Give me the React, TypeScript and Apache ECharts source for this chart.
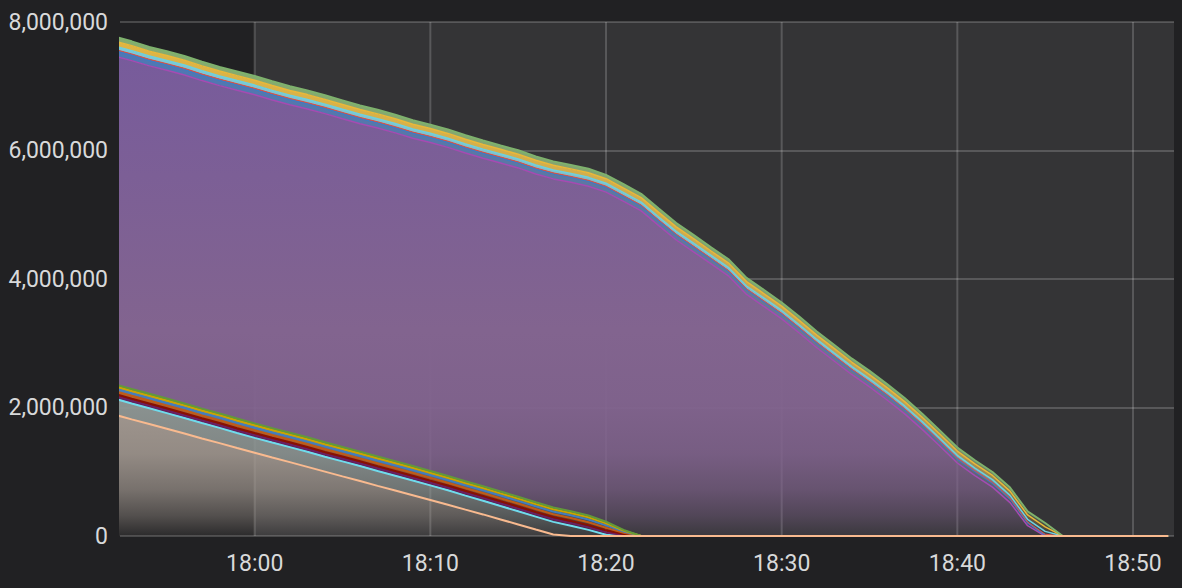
import React, { useEffect, useRef } from 'react';
import * as echarts from 'echarts';

const START = new Date(2024, 0, 15, 17, 52, 0).getTime();
const MINUTE = 60000;
const AXIS_MIN = START + 20000;
const AXIS_MAX = START + 60 * MINUTE + 20000;
const BG_FROM = new Date(2024, 0, 15, 18, 0, 0).getTime();
const Y_MAX = 8000000;
const Y_STEP = 2000000;

// values in thousands, one point per minute from 17:52 to 18:52 (stack order: bottom → top)
const peach = [1890, 1815, 1742, 1668, 1594, 1518, 1446, 1370, 1296, 1222, 1150, 1076, 1002, 928, 855, 780, 708, 634, 560, 486, 410, 336, 258, 180, 100, 22, 0, 0, 0, 0, 0, 0, 0, 0, 0, 0, 0, 0, 0, 0, 0, 0, 0, 0, 0, 0, 0, 0, 0, 0, 0, 0, 0, 0, 0, 0, 0, 0, 0, 0, 0];
const cyanLow = [250, 248, 246, 244, 242, 240, 237, 234, 231, 232, 233, 234, 232, 233, 234, 232, 231, 229, 228, 225, 219, 213, 208, 204, 202, 198, 160, 95, 20, 0, 0, 0, 0, 0, 0, 0, 0, 0, 0, 0, 0, 0, 0, 0, 0, 0, 0, 0, 0, 0, 0, 0, 0, 0, 0, 0, 0, 0, 0, 0, 0];
const plumLow = [40, 40, 41, 40, 39, 40, 41, 40, 40, 39, 40, 41, 40, 40, 39, 40, 40, 41, 40, 39, 40, 40, 41, 40, 39, 40, 40, 39, 36, 17, 0, 0, 0, 0, 0, 0, 0, 0, 0, 0, 0, 0, 0, 0, 0, 0, 0, 0, 0, 0, 0, 0, 0, 0, 0, 0, 0, 0, 0, 0, 0];
const maroonLow = [35, 35, 34, 35, 36, 35, 35, 34, 35, 35, 36, 35, 34, 35, 35, 36, 35, 35, 34, 35, 35, 36, 35, 35, 34, 35, 35, 35, 32, 15, 0, 0, 0, 0, 0, 0, 0, 0, 0, 0, 0, 0, 0, 0, 0, 0, 0, 0, 0, 0, 0, 0, 0, 0, 0, 0, 0, 0, 0, 0, 0];
const brownLow = [45, 44, 45, 46, 45, 44, 45, 45, 46, 45, 44, 45, 45, 46, 45, 44, 45, 45, 46, 45, 44, 45, 45, 46, 45, 44, 45, 45, 40, 19, 0, 0, 0, 0, 0, 0, 0, 0, 0, 0, 0, 0, 0, 0, 0, 0, 0, 0, 0, 0, 0, 0, 0, 0, 0, 0, 0, 0, 0, 0, 0];
const blueLow = [42, 42, 41, 42, 43, 42, 42, 41, 42, 42, 43, 42, 42, 41, 42, 42, 43, 42, 42, 41, 42, 42, 43, 42, 42, 41, 42, 42, 38, 18, 0, 0, 0, 0, 0, 0, 0, 0, 0, 0, 0, 0, 0, 0, 0, 0, 0, 0, 0, 0, 0, 0, 0, 0, 0, 0, 0, 0, 0, 0, 0];
const yellowLow = [35, 35, 36, 35, 34, 35, 35, 36, 35, 35, 34, 35, 35, 36, 35, 35, 34, 35, 35, 36, 35, 35, 34, 35, 35, 36, 35, 35, 31, 15, 0, 0, 0, 0, 0, 0, 0, 0, 0, 0, 0, 0, 0, 0, 0, 0, 0, 0, 0, 0, 0, 0, 0, 0, 0, 0, 0, 0, 0, 0, 0];
const greenLow = [28, 28, 28, 29, 28, 28, 27, 28, 28, 29, 28, 28, 28, 27, 28, 28, 29, 28, 28, 28, 27, 28, 28, 29, 28, 28, 28, 27, 25, 11, 0, 0, 0, 0, 0, 0, 0, 0, 0, 0, 0, 0, 0, 0, 0, 0, 0, 0, 0, 0, 0, 0, 0, 0, 0, 0, 0, 0, 0, 0, 0];
const purple = [5108, 5112, 5104, 5110, 5115, 5106, 5102, 5110, 5114, 5108, 5103, 5110, 5116, 5108, 5104, 5112, 5109, 5102, 5110, 5114, 5108, 5104, 5112, 5118, 5110, 5114, 5120, 5126, 5130, 5112, 5060, 4830, 4607, 4420, 4230, 4040, 3760, 3570, 3380, 3160, 2930, 2720, 2510, 2320, 2117, 1900, 1660, 1400, 1136, 940, 760, 520, 160, 0, 0, 0, 0, 0, 0, 0, 0];
const blueHigh = [86, 86, 85, 85, 85, 84, 84, 84, 83, 83, 83, 82, 82, 82, 81, 81, 81, 80, 80, 80, 79, 79, 79, 78, 78, 78, 77, 77, 77, 76, 76, 75, 75, 74, 74, 73, 73, 72, 72, 71, 71, 70, 70, 69, 68, 68, 67, 66, 65, 64, 62, 58, 45, 15, 0, 0, 0, 0, 0, 0, 0];
const redHigh = [18, 18, 18, 17, 18, 18, 17, 17, 18, 17, 17, 17, 17, 16, 17, 17, 16, 16, 17, 16, 16, 16, 16, 16, 15, 16, 15, 15, 16, 15, 15, 15, 15, 14, 15, 14, 14, 15, 14, 14, 14, 14, 14, 13, 14, 13, 13, 13, 13, 13, 13, 13, 12, 12, 0, 0, 0, 0, 0, 0, 0];
const cyanHigh = [51, 51, 50, 50, 51, 50, 50, 49, 50, 49, 49, 49, 48, 49, 48, 48, 48, 47, 48, 47, 47, 47, 47, 46, 47, 46, 46, 46, 45, 46, 45, 45, 45, 45, 44, 45, 44, 44, 44, 43, 44, 43, 43, 43, 42, 43, 42, 42, 42, 41, 42, 42, 43, 45, 0, 0, 0, 0, 0, 0, 0];
const yellowHigh = [78, 78, 77, 78, 77, 77, 76, 77, 76, 76, 75, 76, 75, 75, 74, 75, 74, 74, 73, 74, 73, 73, 72, 73, 72, 72, 71, 72, 71, 71, 70, 71, 70, 70, 69, 70, 69, 69, 68, 69, 68, 68, 67, 68, 67, 67, 66, 67, 66, 66, 65, 66, 67, 70, 0, 0, 0, 0, 0, 0, 0];
const greenHigh = [67, 67, 66, 67, 66, 66, 65, 66, 65, 65, 64, 65, 64, 64, 63, 64, 63, 63, 62, 63, 62, 62, 61, 62, 61, 61, 60, 61, 60, 60, 59, 60, 59, 59, 58, 59, 58, 58, 57, 58, 57, 57, 56, 57, 56, 56, 55, 56, 55, 55, 54, 55, 56, 60, 0, 0, 0, 0, 0, 0, 0];

// x-axis gridline / label times, every 10 minutes
const X_TICK_MINUTES = [0, 10, 20, 30, 40, 50];

const SERIES = [
  { name: 'peach', data: peach, line: '#F9BA8F', top: '#b4a99e', mid: '#a69c94', width: 2, z: 4 },
  { name: 'cyan-low', data: cyanLow, line: '#70DBED', top: '#93a0a0', mid: '#8f9795', width: 2, z: 2 },
  { name: 'plum-low', data: plumLow, line: '#6D1F62', top: '#5e2257', mid: '#5e2257', width: 2, z: 2 },
  { name: 'maroon-low', data: maroonLow, line: '#890F02', top: '#7c1d1a', mid: '#7c1d1a', width: 2, z: 2 },
  { name: 'brown-low', data: brownLow, line: '#C15C17', top: '#b0612f', mid: '#b0612f', width: 2, z: 2 },
  { name: 'blue-low', data: blueLow, line: '#447EBC', top: '#4f80b5', mid: '#4f80b5', width: 2, z: 2 },
  { name: 'yellow-low', data: yellowLow, line: '#CCA300', top: '#c4a22c', mid: '#c4a22c', width: 2, z: 2 },
  { name: 'green-low', data: greenLow, line: '#629a3a', top: '#6a8f45', mid: '#6a8f45', width: 2, z: 2 },
  { name: 'purple', data: purple, line: '#A64BB2', top: '#765a9d', mid: '#82648f', width: 1.5, z: 2 },
  { name: 'blue-high', data: blueHigh, line: '#3E7CC4', top: '#4a78b8', mid: '#6e7690', width: 1.5, z: 2 },
  { name: 'red-high', data: redHigh, line: '#E24D42', top: '#d9573f', mid: '#a0706a', width: 1, z: 2 },
  { name: 'cyan-high', data: cyanHigh, line: '#6ED0E0', top: '#7ccad8', mid: '#8ab3ba', width: 1.5, z: 2 },
  { name: 'yellow-high', data: yellowHigh, line: '#EAB839', top: '#e0b645', mid: '#c3a556', width: 1.5, z: 2 },
  { name: 'green-high', data: greenHigh, line: '#7EB26D', top: '#86ad6f', mid: '#7f9a72', width: 2, z: 2 },
];

function hexToRgb(h: string) {
  const n = parseInt(h.slice(1), 16);
  return [(n >> 16) & 255, (n >> 8) & 255, n & 255];
}

function fade(top: string, mid: string) {
  const [r, g, b] = hexToRgb(mid);
  const a = (x: number) => `rgba(${r},${g},${b},${x})`;
  return {
    type: 'linear', x: 0, y: 22, x2: 0, y2: 536, global: true,
    colorStops: [
      { offset: 0, color: top },
      { offset: 0.6, color: mid },
      { offset: 0.74, color: a(0.96) },
      { offset: 0.84, color: a(0.86) },
      { offset: 0.91, color: a(0.65) },
      { offset: 0.96, color: a(0.38) },
      { offset: 1, color: a(0.08) },
    ],
  };
}

const pad = (n: number) => (n < 10 ? '0' + n : '' + n);
const LABEL = '#d8d9da';
const GRID_LINE = 'rgba(255,255,255,0.18)';

export default function App() {
  const ref = useRef<HTMLDivElement>(null);
  useEffect(() => {
    if (!ref.current) return;
    const chart = echarts.init(ref.current, null, { renderer: 'svg' });
    chart.setOption({
      animation: false,
      backgroundColor: '#212123',
      grid: { left: 120, right: 8, top: 22, bottom: 52 },
      xAxis: {
        type: 'time',
        min: AXIS_MIN,
        max: AXIS_MAX,
        axisLine: { show: false },
        axisTick: { show: false },
        axisLabel: {
          color: LABEL,
          fontSize: 23,
          fontFamily: 'Roboto',
          margin: 16,
          formatter: (v: number) => {
            const d = new Date(v);
            if (d.getMinutes() % 10 !== 0 || d.getSeconds() !== 0) return '';
            return pad(d.getHours()) + ':' + pad(d.getMinutes());
          },
        },
        splitLine: { show: false },
      },
      yAxis: {
        type: 'value',
        min: 0,
        max: Y_MAX,
        interval: Y_STEP,
        axisLine: { show: false },
        axisTick: { show: false },
        axisLabel: {
          color: LABEL,
          fontSize: 23,
          fontFamily: 'Roboto',
          margin: 12,
          formatter: (v: number) => v.toLocaleString('en-US'),
        },
        splitLine: { show: true, lineStyle: { color: GRID_LINE, width: 2 } },
      },
      series: SERIES.map((s) => ({
        type: 'line',
        name: s.name,
        stack: 'total',
        data: s.data.map((v, k) => [START + k * MINUTE, v * 1000]),
        symbol: 'none',
        showSymbol: false,
        silent: true,
        clip: true,
        z: s.z,
        lineStyle: { color: s.line, width: s.width },
        itemStyle: { color: s.line },
        areaStyle: { color: fade(s.top, s.mid), opacity: 1 },
      })),
    });
    const px = (t: number, v: number) =>
      chart.convertToPixel({ xAxisIndex: 0, yAxisIndex: 0 }, [t, v]) as number[];
    const p1 = px(BG_FROM, Y_MAX);
    const p2 = px(AXIS_MAX, 0);
    const vlines = X_TICK_MINUTES.map((m) => {
      const t = BG_FROM + m * MINUTE;
      const a = px(t, Y_MAX);
      const b = px(t, 0);
      return {
        type: 'line',
        z: -0.5,
        silent: true,
        shape: { x1: a[0], y1: a[1], x2: b[0], y2: b[1] },
        style: { stroke: GRID_LINE, lineWidth: 2 },
      };
    });
    chart.setOption({
      graphic: [
        {
          type: 'rect',
          z: -1,
          silent: true,
          shape: { x: p1[0], y: p1[1], width: p2[0] - p1[0], height: p2[1] - p1[1] },
          style: { fill: '#343436' },
        },
        ...vlines,
      ],
    });
    return () => chart.dispose();
  }, []);
  return (
    <div
      ref={ref}
      style={{ position: 'fixed', left: 0, top: 0, width: 1182, height: 588 }}
    />
  );
}
